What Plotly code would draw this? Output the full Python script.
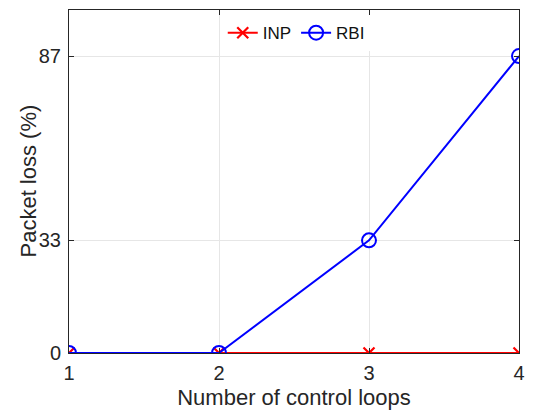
import plotly.graph_objects as go

loops = [1, 2, 3, 4]
inp_loss = [0, 0, 0, 0]
rbi_loss = [0, 0, 33, 87]
y_ticks = [0, 33, 87]

FONT = "Liberation Sans, Arial"
fig = go.Figure()
fig.add_trace(go.Scatter(x=loops, y=inp_loss, name="INP", mode="lines+markers",
                         line=dict(color="#ff0000", width=2),
                         marker=dict(symbol="x-thin", size=11, line=dict(color="#ff0000", width=2.2))))
fig.add_trace(go.Scatter(x=loops, y=rbi_loss, name="RBI", mode="lines+markers",
                         line=dict(color="#0000ff", width=2),
                         marker=dict(symbol="circle-open", size=14, color="#0000ff", line=dict(width=2))))

axis_common = dict(showline=True, mirror="ticks", linecolor="#262626", linewidth=1,
                   ticks="inside", ticklen=5, tickcolor="#262626",
                   showgrid=True, gridcolor="#e6e6e6", gridwidth=1, zeroline=False,
                   automargin=False,
                   tickfont=dict(family=FONT, size=20, color="#262626"))

fig.update_xaxes(range=[1, 4], tickvals=loops, title_text="Number of control loops",
                 title_font=dict(family=FONT, size=22, color="#262626"),
                 title_standoff=6, ticklabelstandoff=2, **axis_common)
fig.update_yaxes(range=[0, 100.5], tickvals=y_ticks,
                 ticklabelstandoff=3, **axis_common)

fig.add_annotation(text="Packet loss (%)", xref="paper", yref="paper", x=0, y=0.5,
                   xanchor="center", yanchor="middle", xshift=-41, textangle=-90,
                   showarrow=False, font=dict(family=FONT, size=22, color="#262626"))

fig.update_layout(width=534, height=412, margin=dict(l=69, r=15, t=10, b=59, autoexpand=False),
                  plot_bgcolor="white", paper_bgcolor="white",
                  showlegend=True,
                  legend=dict(orientation="h", x=0.505, y=0.985, xanchor="center", yanchor="top",
                              bgcolor="rgba(255,255,255,1)",
                              font=dict(family=FONT, size=17, color="#111111"),
                              itemwidth=30, tracegroupgap=0))

fig.write_html("out.html")
